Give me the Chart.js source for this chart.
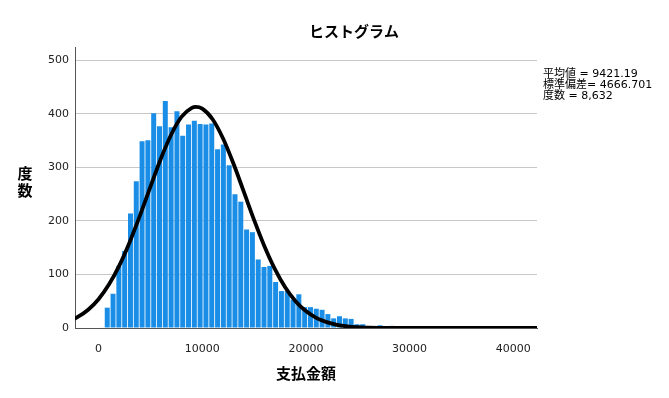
<!DOCTYPE html>
<html>
<head>
<meta charset="utf-8">
<script src="https://cdn.jsdelivr.net/npm/chart.js@4"></script>
<style>
  html, body { margin: 0; padding: 0; background: #fff; }
</style>
</head>
<body>
<canvas id="histChart" width="669" height="398"></canvas>
<script>
// Histogram bins: width 560, first bin starts at 0
const binWidth = 560;
const binCounts = [1, 38, 64, 116, 144, 214, 274, 349, 351, 401,
                   377, 424, 375, 405, 359, 380, 387, 381, 380, 382,
                   334, 343, 304, 250, 236, 184, 179, 128, 114, 116,
                   86, 69, 69, 53, 63, 39, 39, 36, 34, 26,
                   18, 22, 18, 17, 7, 7, 3, 2, 5, 2, 4];

// Normal curve
const curveX = [-3000, -2000, -1000, 0, 1000, 2000, 3000, 4000, 5000, 6000,
                7000, 8000, 9000, 9400, 10000, 11000, 12000, 13000, 14000, 15000,
                16000, 17000, 18000, 19000, 20000, 21000, 22000, 23000, 24000, 25000,
                26000, 27000, 28000, 29000, 30000, 35000, 43000];
const curveY = [12.0, 20.7, 34.1, 53.8, 81.1, 116.6, 160.3, 210.3, 263.7, 315.7,
                361.0, 394.3, 411.3, 413.0, 409.8, 390.0, 354.5, 307.8, 255.2, 202.1,
                152.9, 110.5, 76.2, 50.2, 31.6, 19.0, 10.9, 6.0, 3.1, 1.6,
                0.8, 0.3, 0.1, 0, 0, 0, 0];

const xTicks = [0, 10000, 20000, 30000, 40000];
const yTicks = [0, 100, 200, 300, 400, 500];

const chartTitle = 'ヒストグラム';
const xTitle = '支払金額';
const yTitle = ['度', '数'];
const statsLines = ['平均値 = 9421.19', '標準偏差= 4666.701', '度数 = 8,632'];

const cjkFont = '"Noto Sans CJK JP", "DejaVu Sans", sans-serif';
const tickFont = { family: '"DejaVu Sans", sans-serif', size: 11 };

// title, vertical y title and the stats box
const textPlugin = {
    id: 'spssText',
    afterDraw(chart) {
        const ctx = chart.ctx;
        ctx.save();
        ctx.fillStyle = '#000';
        ctx.textAlign = 'center';
        ctx.textBaseline = 'middle';
        ctx.font = 'bold 15px ' + cjkFont;
        ctx.fillText(chartTitle, 354, 31);
        yTitle.forEach((ch, i) => ctx.fillText(ch, 25, 173 + i * 17));
        ctx.textAlign = 'left';
        ctx.font = '11px "DejaVu Sans", "Noto Sans CJK JP", sans-serif';
        statsLines.forEach((s, i) => ctx.fillText(s, 543, 74 + i * 11));
        ctx.restore();
    }
};

const ctx = document.getElementById('histChart').getContext('2d');
new Chart(ctx, {
    type: 'bar',
    data: {
        datasets: [
            {
                type: 'line',
                data: curveX.map((x, i) => ({ x: x, y: curveY[i] })),
                borderColor: '#000',
                borderWidth: 3.8,
                pointRadius: 0,
                cubicInterpolationMode: 'monotone',
                order: 0
            },
            {
                type: 'bar',
                data: binCounts.map((c, i) => ({ x: i * binWidth + binWidth / 2, y: c })),
                backgroundColor: '#1a8ee6',
                barPercentage: 0.86,
                categoryPercentage: 1,
                order: 1
            }
        ]
    },
    options: {
        responsive: false,
        animation: false,
        layout: { padding: { top: 47, right: 132, left: 0, bottom: 0 } },
        plugins: {
            legend: { display: false },
            tooltip: { enabled: false }
        },
        scales: {
            x: {
                type: 'linear',
                min: -2270,
                max: 42290,
                offset: false,
                grid: { display: false },
                border: { color: '#555' },
                ticks: {
                    font: tickFont,
                    color: '#222',
                    padding: 7,
                    maxRotation: 0,
                    callback: v => String(v)
                },
                afterBuildTicks: scale => { scale.ticks = xTicks.map(v => ({ value: v })); },
                afterFit: scale => { scale.height = 70; },
                title: {
                    display: true,
                    text: xTitle,
                    color: '#000',
                    font: { family: cjkFont, size: 15, weight: 'bold' },
                    padding: { top: 14, bottom: 16 }
                }
            },
            y: {
                min: 0,
                max: 525,
                grid: { color: '#c8c8c8', drawTicks: false },
                border: { color: '#555' },
                ticks: {
                    font: tickFont,
                    color: '#222',
                    padding: 6,
                    callback: v => String(v)
                },
                afterBuildTicks: scale => { scale.ticks = yTicks.map(v => ({ value: v })); },
                afterFit: scale => { scale.width = 75; }
            }
        }
    },
    plugins: [textPlugin]
});
</script>
</body>
</html>
